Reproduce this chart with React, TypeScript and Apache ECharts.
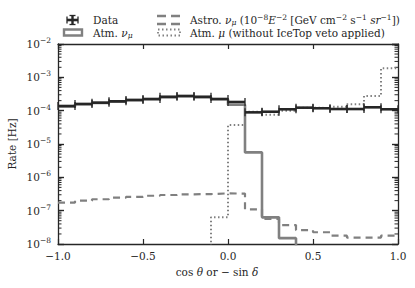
import React, { useEffect, useRef } from "react";
import * as echarts from "echarts";

// bin edges in cos(theta)
const binEdges = [-1.0, -0.9, -0.8, -0.7, -0.6, -0.5, -0.4, -0.3, -0.2, -0.1, 0.0, 0.1, 0.2, 0.3, 0.4, 0.5, 0.6, 0.7, 0.8, 0.9, 1.0];
// value used for bins that fall below the plotted range
const OFF = 1e-9;
const dataRate = [1.38e-4, 1.59e-4, 1.74e-4, 1.91e-4, 2.1e-4, 2.24e-4, 2.6e-4, 2.76e-4, 2.6e-4, 2.24e-4, 1.82e-4, 8.9e-5, 9.3e-5, 1.1e-4, 1.23e-4, 1.18e-4, 1.12e-4, 1.12e-4, 1.26e-4, 1.1e-4];
const atmNuMu = [1.34e-4, 1.55e-4, 1.7e-4, 1.86e-4, 2.05e-4, 2.2e-4, 2.55e-4, 2.7e-4, 2.55e-4, 2.2e-4, 1.5e-4, 5.6e-6, 6.3e-8, 1.5e-8, OFF, OFF, OFF, OFF, OFF, OFF];
const astroNuMu = [1.74e-7, 2.0e-7, 2.2e-7, 2.45e-7, 2.6e-7, 2.8e-7, 2.95e-7, 3.1e-7, 3.15e-7, 3.3e-7, 3.25e-7, 1.1e-7, 5.7e-8, 3.7e-8, 2.6e-8, 2.25e-8, 1.78e-8, 1.55e-8, 1.55e-8, 1.78e-8];
const atmMu = [OFF, OFF, OFF, OFF, OFF, OFF, OFF, OFF, OFF, 6.3e-8, 3.7e-5, 9.3e-5, 7.6e-5, 1.0e-4, 1.23e-4, 1.2e-4, 1.32e-4, 1.56e-4, 2.76e-4, 1.87e-3];
const minorMultipliers = [2, 3, 4, 5, 6, 7, 8, 9];
const decades = [-8, -7, -6, -5, -4, -3];

const FONT = "DejaVu Serif";
const INK = "#262626";
const GRAY = "#808080";

function stepPoints(vals: number[]) {
  return binEdges.map((e, i) => [e, vals[Math.min(i, vals.length - 1)]]);
}

const baseRich = (size: number) => ({
  n: { fontFamily: FONT, fontSize: size, fill: INK, color: INK, lineHeight: 13 },
  i: { fontFamily: FONT, fontSize: size, fontStyle: "italic", fill: INK, color: INK, lineHeight: 13 },
  sup: { fontFamily: FONT, fontSize: size * 0.72, fill: INK, color: INK, verticalAlign: "top", lineHeight: 8 },
  sub: { fontFamily: FONT, fontSize: size * 0.72, fontStyle: "italic", fill: INK, color: INK, verticalAlign: "bottom", lineHeight: 8 },
});

const axisLineCommon = { show: true, onZero: false, lineStyle: { color: INK, width: 1.3 } };

export default function App() {
  const ref = useRef<HTMLDivElement>(null);
  useEffect(() => {
    if (!ref.current) return;
    const chart = echarts.init(ref.current, undefined, { renderer: "svg" });
    const minorData: number[][] = [];
    decades.forEach((d) => minorMultipliers.forEach((m) => minorData.push([-1, m * Math.pow(10, d)])));

    const legendRich = baseRich(10.5);
    const option: any = {
      animation: false,
      backgroundColor: "#ffffff",
      grid: { left: 58, right: 17, top: 44, bottom: 44, containLabel: false },
      xAxis: [
        {
          type: "value", min: -1, max: 1, interval: 0.5,
          axisLine: axisLineCommon,
          axisTick: { show: true, inside: true, length: 5, lineStyle: { color: INK, width: 1.2 } },
          splitLine: { show: false },
          axisLabel: {
            margin: 6, color: INK, fontFamily: FONT, fontSize: 10.5,
            formatter: (v: number) => (v < 0 ? "\u2212" + Math.abs(v).toFixed(1) : v.toFixed(1)),
          },
        },
        {
          type: "value", position: "top", min: -1, max: 1, interval: 0.5,
          axisLine: axisLineCommon,
          axisTick: { show: true, inside: true, length: 5, lineStyle: { color: INK, width: 1.2 } },
          splitLine: { show: false }, axisLabel: { show: false },
        },
      ],
      yAxis: [
        {
          type: "log", logBase: 10, min: 1e-8, max: 1e-2, interval: 1,
          axisLine: axisLineCommon,
          axisTick: { show: true, inside: true, length: 6, lineStyle: { color: INK, width: 1.4 } },
          splitLine: { show: false },
          axisLabel: {
            margin: 7, color: INK,
            formatter: (v: number) => {
              const e = Math.round(Math.log10(v));
              return "{b|10}{s|\u2212" + Math.abs(e) + "}";
            },
            rich: {
              b: { fontFamily: FONT, fontSize: 10.5, color: INK, lineHeight: 15 },
              s: { fontFamily: FONT, fontSize: 7.5, color: INK, verticalAlign: "top", lineHeight: 8 },
            },
          },
        },
        {
          type: "log", logBase: 10, min: 1e-8, max: 1e-2, interval: 1, position: "right",
          axisLine: axisLineCommon,
          axisTick: { show: true, inside: true, length: 6, lineStyle: { color: INK, width: 1.4 } },
          splitLine: { show: false }, axisLabel: { show: false },
        },
      ],
      series: [
        {
          type: "custom", name: "minor", xAxisIndex: 0, yAxisIndex: 0, silent: true,
          data: minorData, encode: { x: 0, y: 1 }, clip: false,
          renderItem: (params: any, api: any) => {
            const v = api.value(1);
            const pl = api.coord([-1, v]);
            const pr = api.coord([1, v]);
            const st = { stroke: INK, lineWidth: 1 };
            return {
              type: "group",
              children: [
                { type: "line", shape: { x1: pl[0], y1: pl[1], x2: pl[0] + 3.5, y2: pl[1] }, style: st },
                { type: "line", shape: { x1: pr[0] - 3.5, y1: pr[1], x2: pr[0], y2: pr[1] }, style: st },
              ],
            };
          },
        },
        {
          type: "line", name: "Atm. nu_mu", step: "end", showSymbol: false, symbol: "none", clip: true,
          data: stepPoints(atmNuMu), lineStyle: { color: GRAY, width: 2.6 }, z: 3,
        },
        {
          type: "line", name: "Astro", step: "end", showSymbol: false, symbol: "none", clip: true,
          data: stepPoints(astroNuMu), lineStyle: { color: GRAY, width: 2.2, type: [7, 5] }, z: 3,
        },
        {
          type: "line", name: "Atm mu", step: "end", showSymbol: false, symbol: "none", clip: true,
          data: stepPoints(atmMu), lineStyle: { color: GRAY, width: 2, type: [1.5, 2.5] }, z: 3,
        },
        {
          type: "custom", name: "Data", xAxisIndex: 0, yAxisIndex: 0,
          data: dataRate.map((v, i) => [binEdges[i], binEdges[i + 1], v]),
          encode: { x: [0, 1], y: 2 }, z: 10,
          renderItem: (params: any, api: any) => {
            const v = api.value(2);
            const p0 = api.coord([api.value(0), v]);
            const p1 = api.coord([api.value(1), v]);
            const cap = 4;
            const st = { stroke: INK, lineWidth: 1.3 };
            return {
              type: "group",
              children: [
                { type: "line", shape: { x1: p0[0], y1: p0[1], x2: p1[0], y2: p1[1] }, style: { stroke: INK, lineWidth: 2.6 } },
                { type: "line", shape: { x1: p0[0], y1: p0[1] - cap, x2: p0[0], y2: p0[1] + cap }, style: st },
                { type: "line", shape: { x1: p1[0], y1: p1[1] - cap, x2: p1[0], y2: p1[1] + cap }, style: st },
              ],
            };
          },
        },
      ],
      graphic: [
        // Data legend marker
        { type: "line", shape: { x1: 67, y1: 20, x2: 78, y2: 20 }, style: { stroke: INK, lineWidth: 2.6 } },
        { type: "line", shape: { x1: 72.5, y1: 15.5, x2: 72.5, y2: 24.5 }, style: { stroke: INK, lineWidth: 2.4 } },
        { type: "line", shape: { x1: 67, y1: 16.5, x2: 67, y2: 23.5 }, style: { stroke: INK, lineWidth: 1.3 } },
        { type: "line", shape: { x1: 78, y1: 16.5, x2: 78, y2: 23.5 }, style: { stroke: INK, lineWidth: 1.3 } },
        { type: "line", shape: { x1: 69.5, y1: 15.5, x2: 75.5, y2: 15.5 }, style: { stroke: INK, lineWidth: 1.3 } },
        { type: "line", shape: { x1: 69.5, y1: 24.5, x2: 75.5, y2: 24.5 }, style: { stroke: INK, lineWidth: 1.3 } },
        { type: "text", x: 93, y: 20, style: { text: "Data", fontFamily: FONT, fontSize: 10.5, fill: INK, verticalAlign: "middle" } },
        // Atm nu_mu
        { type: "rect", shape: { x: 64, y: 29.5, width: 18, height: 6 }, style: { stroke: GRAY, lineWidth: 2.4, fill: "none" } },
        { type: "text", x: 93, y: 32.5, style: { text: "{n|Atm. }{i|\u03bd}{sub|\u03bc}", rich: legendRich, verticalAlign: "middle" } },
        // Astro
        { type: "line", shape: { x1: 157, y1: 16, x2: 181, y2: 16 }, style: { stroke: GRAY, lineWidth: 2.4, lineDash: [9, 5] } },
        { type: "line", shape: { x1: 157, y1: 24, x2: 181, y2: 24 }, style: { stroke: GRAY, lineWidth: 2.4, lineDash: [9, 5] } },
        {
          type: "text", x: 190, y: 19.5,
          style: {
            text: "{n|Astro. }{i|\u03bd}{sub|\u03bc}{n| (10}{sup|\u22128}{i|E}{sup|\u22122}{n| [GeV cm}{sup|\u22122}{n| s}{sup|\u22121}{n| }{i|sr}{sup|\u22121}{n|])}",
            rich: legendRich, verticalAlign: "middle",
          },
        },
        // Atm mu
        { type: "rect", shape: { x: 158, y: 29.5, width: 22, height: 6 }, style: { stroke: GRAY, lineWidth: 1.8, lineDash: [1.5, 2.5], fill: "none" } },
        {
          type: "text", x: 190, y: 32.5,
          style: { text: "{n|Atm. }{i|\u03bc}{n| (without IceTop veto applied)}", rich: legendRich, verticalAlign: "middle" },
        },
        // axis titles
        {
          type: "text", x: 217, y: 272,
          style: { text: "{n|cos }{i|\u03b8}{n| or \u2212 sin }{i|\u03b4}", rich: baseRich(10.5), align: "center", verticalAlign: "middle" },
        },
        {
          type: "text", x: 12, y: 144, rotation: Math.PI / 2,
          style: { text: "Rate [Hz]", fontFamily: FONT, fontSize: 10.5, fill: INK, align: "center", verticalAlign: "middle" },
        },
      ],
    };
    chart.setOption(option);
    return () => chart.dispose();
  }, []);
  return <div ref={ref} style={{ width: 415, height: 288, position: "absolute", left: 0, top: 0, background: "#fff" }} />;
}
